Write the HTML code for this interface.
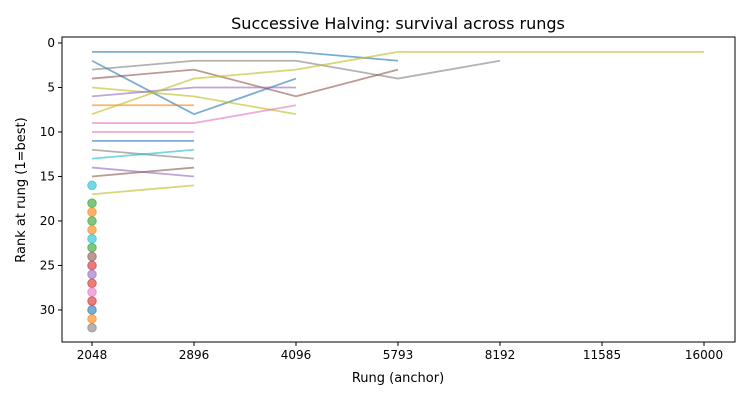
<!DOCTYPE html>
<html><head><meta charset="utf-8">
<style>body{margin:0;background:#fff;}svg{display:block;font-family:"DejaVu Sans","Liberation Sans",sans-serif;}</style>
</head><body>
<svg id="chart" width="750" height="400">
<rect x="0" y="0" width="750" height="400" fill="#fff"/>
<text x="398" y="29" text-anchor="middle" font-size="16" fill="#000">Successive Halving: survival across rungs</text>
<g id="marks"></g>
<g id="axes"></g>
<text x="398" y="382" text-anchor="middle" font-size="13" fill="#000">Rung (anchor)</text>
<text transform="translate(25,190) rotate(-90)" text-anchor="middle" font-size="13" fill="#000">Rank at rung (1=best)</text>
</svg>
<script>
const rungs = ["2048","2896","4096","5793","8192","11585","16000"];
const yTicks = [0,5,10,15,20,25,30];
const seriesRanks = [
 [1,1,1,2],[2,8,4],[3,2,2,4,2],[4,3,6,3],[5,6,8],[6,5,5],[7,7],[8,4,3,1,1,1,1],
 [9,9,7],[10,10],[11,11],[12,13],[13,12],[14,15],[15,14],[16],[17,16],
 [18],[19],[20],[21],[22],[23],[24],[25],[26],[27],[28],[29],[30],[31],[32]
];
const seriesColors = ["#1f77b4","#1f77b4","#7f7f7f","#8c564b","#bcbd22","#9467bd","#ff7f0e","#bcbd22",
 "#e377c2","#e377c2","#1f77b4","#7f7f7f","#17becf","#9467bd","#8c564b","#17becf","#bcbd22",
 "#2ca02c","#ff7f0e","#2ca02c","#ff7f0e","#17becf","#2ca02c","#8c564b","#d62728","#9467bd","#d62728","#e377c2","#d62728","#1f77b4","#ff7f0e","#7f7f7f"];
const L=62,R=735,T=37,B=342;
const xs = i => 92 + i*102;
const yMin=-0.67, yMax=33.6;
const ys = v => T + (v-yMin)/(yMax-yMin)*(B-T);
const NS="http://www.w3.org/2000/svg";
const marks=document.getElementById('marks'), axes=document.getElementById('axes');
function mk(tag,attrs,parent){const e=document.createElementNS(NS,tag);for(const k in attrs)e.setAttribute(k,attrs[k]);parent.appendChild(e);return e;}
seriesRanks.forEach((r,s)=>{
  if(r.length>1){
    const p=mk('polyline',{points:r.map((v,i)=>xs(i)+','+ys(v)).join(' '),fill:'none',stroke:seriesColors[s],'stroke-width':1.8,'stroke-opacity':0.6},marks);
    
    
  } else {
    const c=mk('circle',{cx:xs(0),cy:ys(r[0]),r:4.3,fill:seriesColors[s],'fill-opacity':0.6,stroke:seriesColors[s],'stroke-opacity':0.6},marks);
    
    
  }
});
const frame=mk('rect',{x:L,y:T,width:R-L,height:B-T,fill:'none',stroke:'#000','stroke-width':1},axes);


rungs.forEach((lab,i)=>{
  mk('line',{x1:xs(i),x2:xs(i),y1:B,y2:B+4,stroke:'#000'},axes);
  const t=mk('text',{x:xs(i),y:B+17,'text-anchor':'middle','font-size':12},axes);
  t.textContent=lab;
  
  
});
yTicks.forEach(v=>{
  mk('line',{x1:L-4,x2:L,y1:ys(v),y2:ys(v),stroke:'#000'},axes);
  const t=mk('text',{x:L-7,y:ys(v)+4,'text-anchor':'end','font-size':12},axes);
  t.textContent=v;
  
  
});
</script>
</body></html>
